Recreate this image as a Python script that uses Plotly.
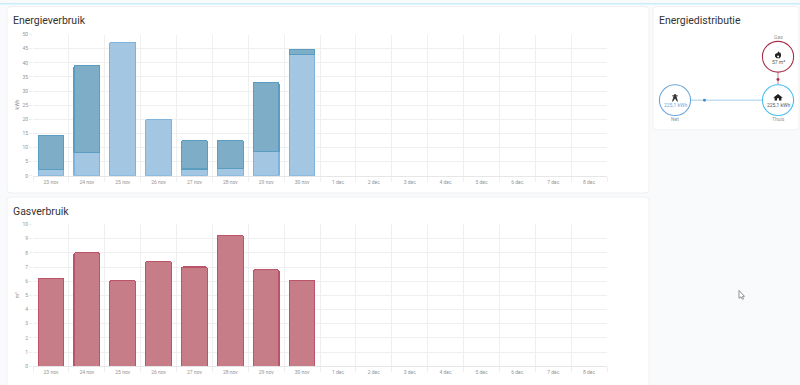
import plotly.graph_objects as go

days = ["23 nov","24 nov","25 nov","26 nov","27 nov","28 nov","29 nov","30 nov","1 dec","2 dec","3 dec","4 dec","5 dec","6 dec","7 dec","8 dec"]
data_days = days[:8]
energy_low = [2.2, 8.2, 47.3, 20.0, 2.4, 2.7, 8.5, 43.0]
energy_high = [12.1, 30.9, None, None, 10.1, 9.9, 24.6, 1.8]
gas = [6.2, 8.0, 6.05, 7.4, 7.0, 9.25, 6.8, 6.05]

W, H = 800, 385
def px(x): return x / W
def py(y): return 1 - y / H

fig = go.Figure()
fig.add_bar(x=data_days, y=energy_low, xaxis="x", yaxis="y", marker=dict(color="#a3c7e3", line=dict(color="#7fb3db", width=1.1)))
fig.add_bar(x=data_days, y=energy_high, xaxis="x", yaxis="y", marker=dict(color="#7eadc7", line=dict(color="#5a9dc0", width=1.1)))
fig.add_bar(x=data_days, y=gas, xaxis="x2", yaxis="y2", marker=dict(color="#c67d88", line=dict(color="#bb5468", width=1.1)))

def rr(x0, y0, x1, y1, r=4):
    return (f"M{px(x0+r)},{py(y0)} L{px(x1-r)},{py(y0)} Q{px(x1)},{py(y0)} {px(x1)},{py(y0+r)} "
            f"L{px(x1)},{py(y1-r)} Q{px(x1)},{py(y1)} {px(x1-r)},{py(y1)} L{px(x0+r)},{py(y1)} "
            f"Q{px(x0)},{py(y1)} {px(x0)},{py(y1-r)} L{px(x0)},{py(y0+r)} Q{px(x0)},{py(y0)} {px(x0+r)},{py(y0)} Z")

def poly(points, **kw):
    d = "M" + " L".join(f"{px(a)},{py(b)}" for a, b in points) + " Z"
    return dict(type="path", xref="paper", yref="paper", path=d, **kw)

shapes = [
    dict(type="rect", xref="paper", yref="paper", x0=0, x1=1, y0=py(1.5), y1=1, fillcolor="#c9edfd", line_width=0, layer="below"),
]
for box in [(7, 3.5, 649, 193), (7, 197, 649, 392), (653, 3.5, 799, 129)]:
    shapes.append(dict(type="path", xref="paper", yref="paper", path=rr(*box), fillcolor="#ffffff",
                       line=dict(color="#f0f1f3", width=1), layer="below"))

def circle(cx, cy, r, color):
    return dict(type="circle", xref="paper", yref="paper", x0=px(cx-r), x1=px(cx+r), y0=py(cy+r), y1=py(cy-r),
                line=dict(color=color, width=1.1), fillcolor="#ffffff")
def line(x0, y0, x1, y1, color):
    return dict(type="line", xref="paper", yref="paper", x0=px(x0), x1=px(x1), y0=py(y0), y1=py(y1), line=dict(color=color, width=1))
def dot(cx, cy, r, color):
    return dict(type="circle", xref="paper", yref="paper", x0=px(cx-r), x1=px(cx+r), y0=py(cy+r), y1=py(cy-r),
                line_width=0, fillcolor=color)

shapes += [
    line(691, 98.7, 762, 98.7, "#a6cdea"),
    line(778, 70, 778, 83, "#c9808d"),
    dot(704.5, 98.7, 1.5, "#4a8fc7"),
    dot(778, 77.7, 1.5, "#a8324a"),
    circle(675, 98.7, 15.6, "#6aa8db"),
    circle(778, 98.7, 15.6, "#45bdf0"),
    circle(778, 54.6, 15.6, "#a8324a"),
]
ink = "#222222"
# home icon
shapes.append(poly([(778, 92.5), (782.8, 96.3), (781.4, 96.3), (781.4, 99), (779, 99), (779, 96.8),
                    (777, 96.8), (777, 99), (774.6, 99), (774.6, 96.3), (773.2, 96.3)], fillcolor=ink, line_width=0))
# flame icon
shapes.append(poly([(778.4, 49), (779.5, 50.5), (780.2, 50.2), (781, 52), (781, 54), (779.6, 56), (776.6, 56),
                    (775, 54.4), (775, 52.4), (776.6, 50.8), (777, 51.5)], fillcolor=ink, line_width=0))
shapes.append(dot(778.1, 54.3, 1, "#ffffff"))
# pylon icon
shapes.append(poly([(674, 92.8), (676, 92.8), (676.4, 94), (678, 94), (678, 94.8), (676.4, 94.8), (678, 100),
                    (677, 100), (675, 97), (673, 100), (672, 100), (673.6, 94.8), (672, 94.8), (672, 94), (673.6, 94)],
                   fillcolor="#333333", line_width=0))
# pointer
shapes.append(poly([(739, 292), (739, 300), (741, 298.5), (742.5, 301), (743.5, 300.5), (742.3, 298), (744.5, 298)],
                   fillcolor="#ffffff", line=dict(color="#777777", width=0.8)))
fig.update_layout(shapes=shapes)

def label(x, y, text, size=5, color="#949494"):
    return dict(xref="paper", yref="paper", x=px(x), y=py(y), text=text, showarrow=False,
                font=dict(size=size, color=color), xanchor="center", yanchor="middle")
def title(x, y, text):
    return dict(xref="paper", yref="paper", x=px(x), y=py(y), text=text, showarrow=False,
                font=dict(size=10.5, color="#333333"), xanchor="left", yanchor="middle")

anns = [
    title(11, 18, "Energieverbruik"),
    title(11, 211.5, "Gasverbruik"),
    title(657, 18, "Energiedistributie"),
    label(778, 34.5, "Gas"),
    label(778, 60, "57 m³", color="#555555"),
    label(675, 103.7, "225,1 kWh", color="#6aa8db"),
    label(778, 103.7, "225,1 kWh", color="#555555"),
    label(675, 118, "Net"),
    label(778, 118, "Thuis"),
    dict(xref="paper", yref="paper", x=px(17), y=py(103), text="kWh", textangle=-90, showarrow=False,
         font=dict(size=5, color="#949494"), xanchor="center", yanchor="middle"),
    dict(xref="paper", yref="paper", x=px(17), y=py(297), text="m³", textangle=-90, showarrow=False,
         font=dict(size=5, color="#949494"), xanchor="center", yanchor="middle"),
]

xcommon = dict(type="category", categoryorder="array", categoryarray=days, range=[-0.5, 15.5],
               domain=[px(33), px(607)], tickson="boundaries", showgrid=True, gridcolor="#efefef", gridwidth=1,
               showline=True, linecolor="#e6e6e6", linewidth=1, ticks="outside", ticklen=5, tickcolor="#efefef",
               tickfont=dict(size=5, color="#949494"), zeroline=False, tickangle=0, ticklabelstandoff=1)
ycommon = dict(showgrid=True, gridcolor="#efefef", gridwidth=1, zeroline=False, showline=False,
               ticks="outside", ticklen=3, tickcolor="#efefef", tickfont=dict(size=5, color="#949494"))

fig.update_layout(
    width=W, height=H, margin=dict(l=0, r=0, t=0, b=0),
    paper_bgcolor="#f9fafb", plot_bgcolor="rgba(0,0,0,0)",
    font=dict(family="Roboto"), showlegend=False, barmode="stack", bargap=0.285, barcornerradius=1.5,
    annotations=anns,
    xaxis=dict(xcommon, anchor="y"),
    xaxis2=dict(xcommon, anchor="y2"),
    yaxis=dict(ycommon, anchor="x", domain=[py(175.5), py(32)], range=[0, 50], dtick=5),
    yaxis2=dict(ycommon, anchor="x2", domain=[py(369), py(225)], range=[0, 10], dtick=1),
)

fig.write_html("out.html", config={"displayModeBar": False},
               post_script="document.body.style.margin='0';document.body.style.overflow='hidden';")
